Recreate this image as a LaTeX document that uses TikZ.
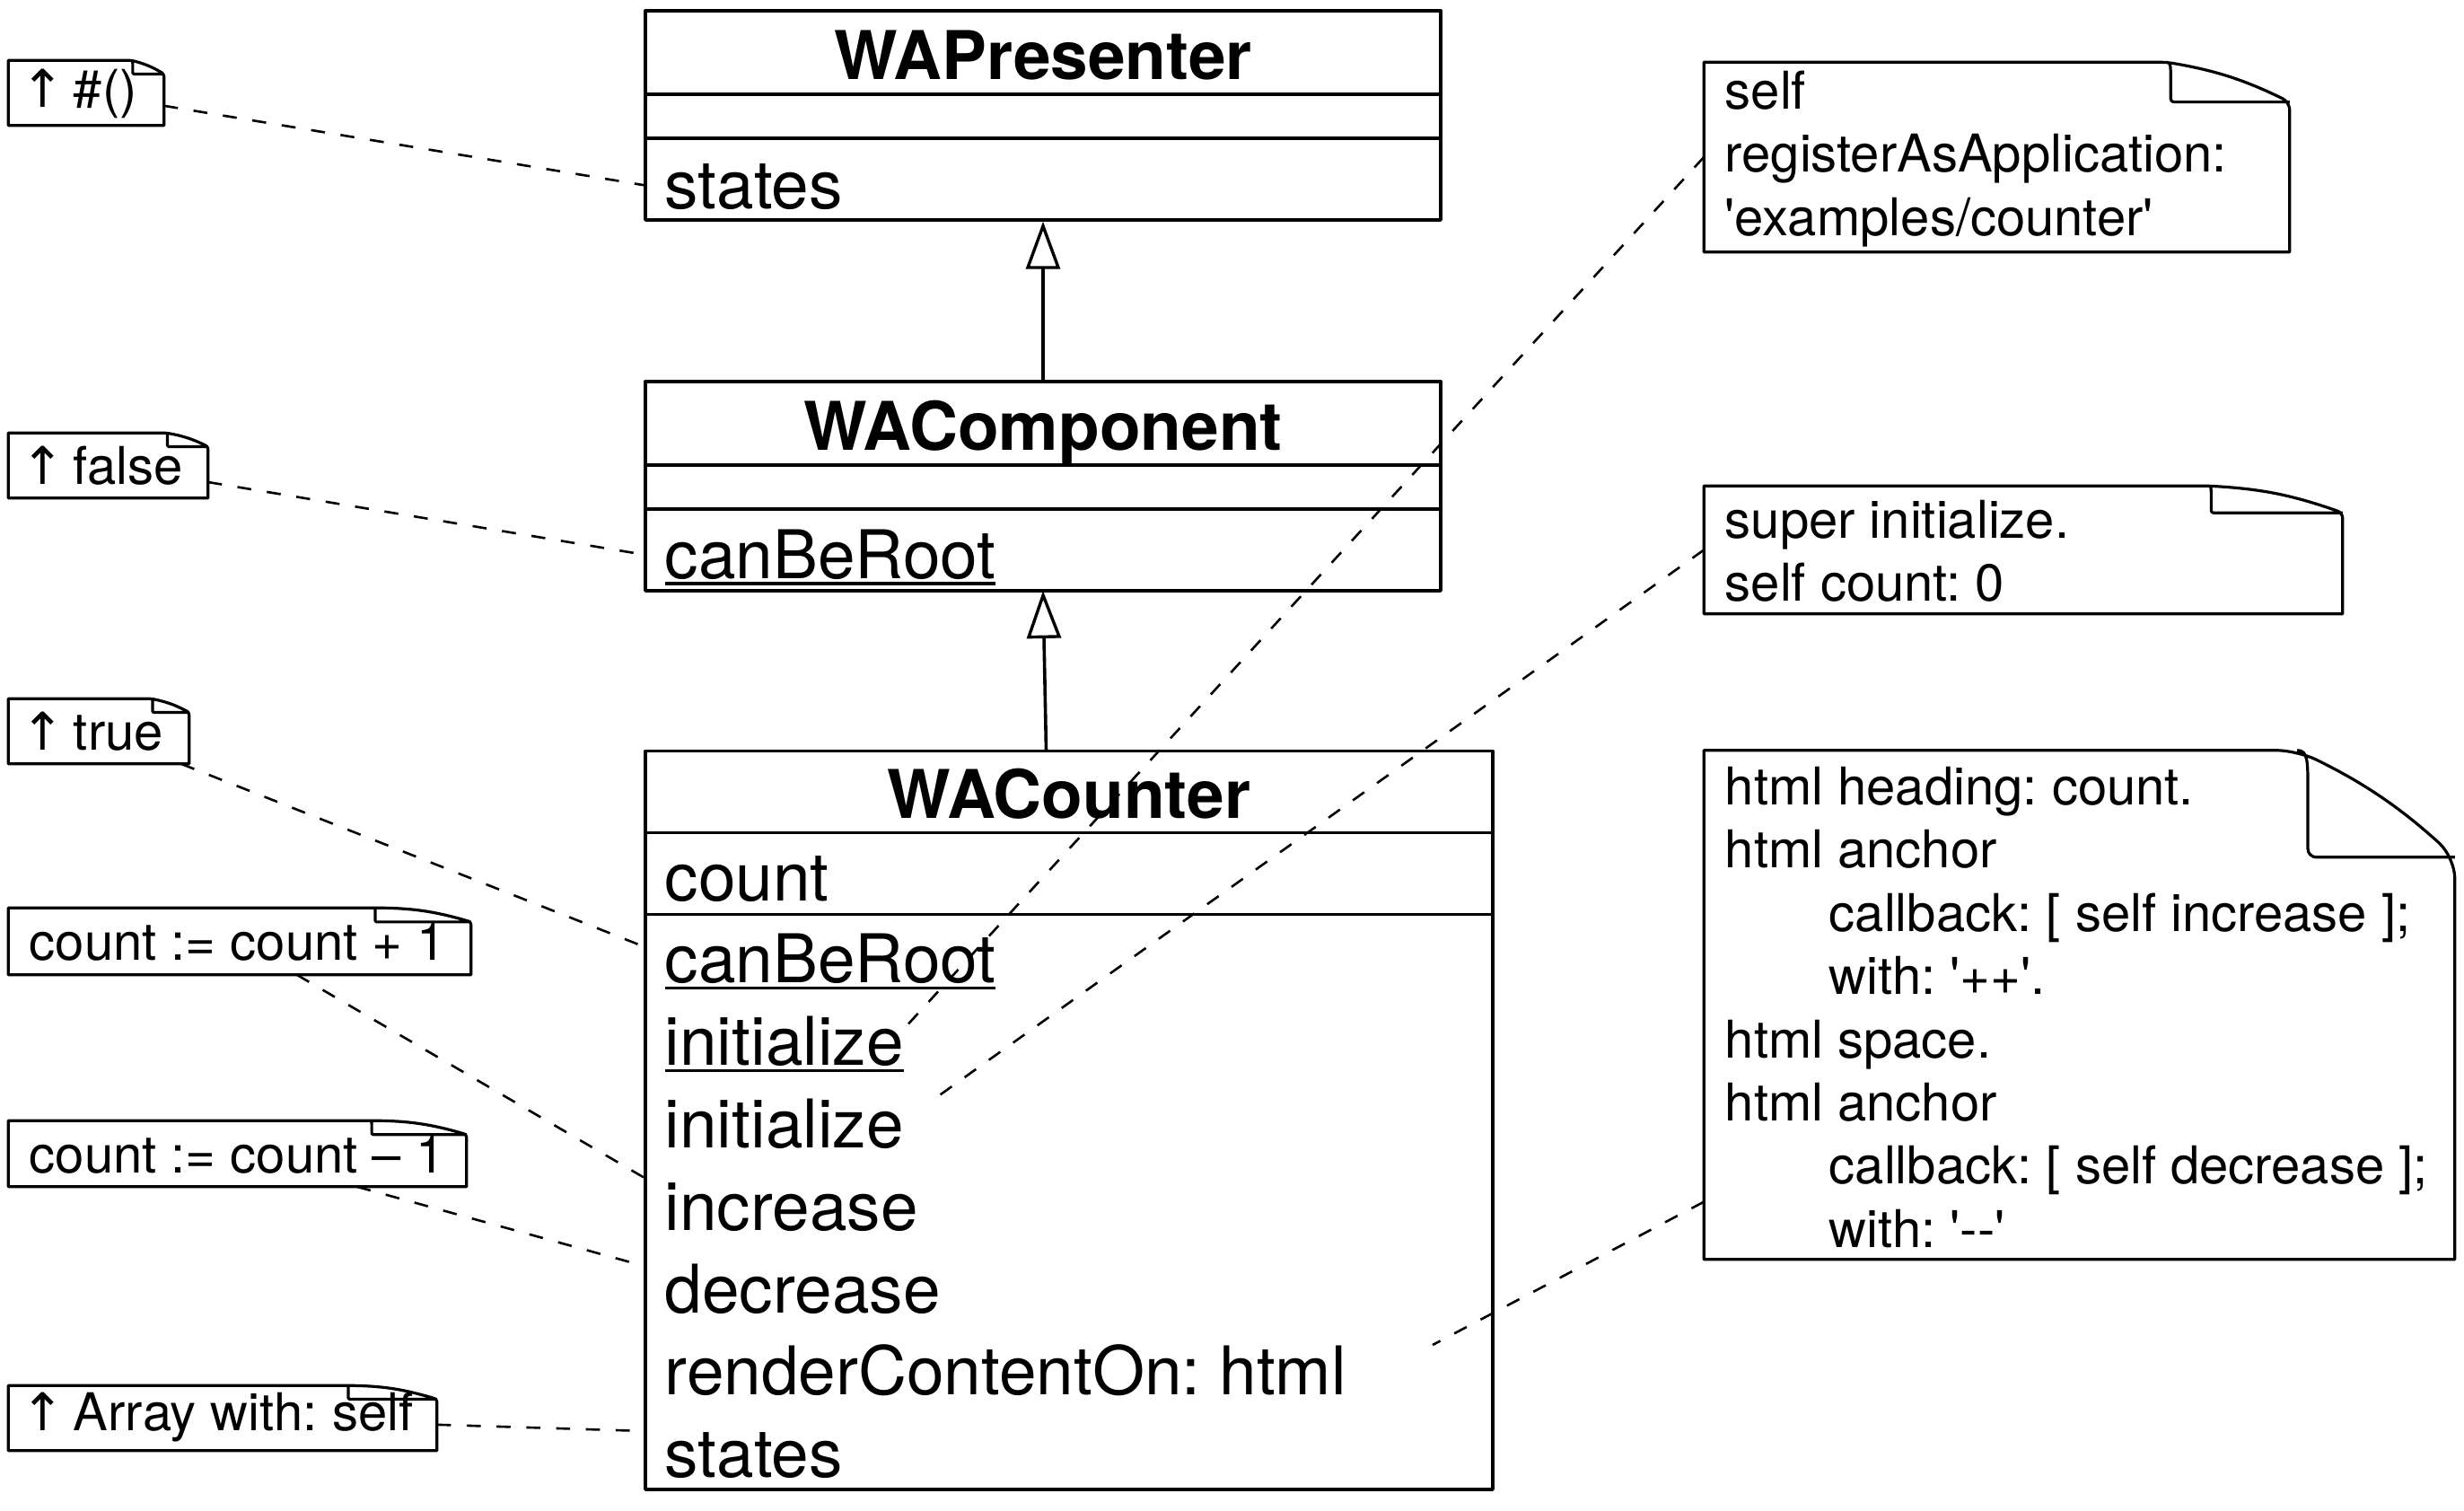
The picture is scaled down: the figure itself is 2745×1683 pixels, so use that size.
\documentclass[tikz,border=0pt]{standalone}
\usepackage{fontspec}
\setmainfont{TeX Gyre Heros}[Ligatures=TeXOff]
\newfontfamily\arrowfont{DejaVu Sans}
\usetikzlibrary{arrows.meta,calc,fit}

\newcommand\myul[1]{\leavevmode\setbox0\hbox{#1}\rlap{\rule[-1.9pt]{\wd0}{0.85pt}}\box0}
\newcommand\upar{{\arrowfont ↑}\hspace{2.4pt}}
\newcommand\drawnote[1]{%
  \draw[noteline] let \p1=(#1.north west), \p2=(#1.south east),
      \n1={0.21*(\x2-\x1)}, \n2={0.21*(\y1-\y2)} in
      (\x1,\y1) [rounded corners={0.2*\n2}] -- (\x2-\n1,\y1) to[bend left=8] (\x2,\y1-\n2)
      [sharp corners] -- (\x2,\y2) -- (\x1,\y2) -- cycle
      (\x2-\n1,\y1) .. controls (\x2-\n1+0.1*\n2,\y1) and (\x2-\n1+0.1*\n2,\y1-0.1*\n2) .. (\x2-\n1+0.1*\n2,\y1-0.35*\n2)
      [rounded corners={0.08*\n2}] -- (\x2-\n1+0.1*\n2,\y1-\n2) [sharp corners] -- (\x2,\y1-\n2);}

\begin{document}
\frenchspacing
\begin{tikzpicture}[x=0.25pt,y=-0.25pt,
  box/.style={draw, line width=0.85pt, inner sep=0pt, line join=round},
  sep/.style={line width=0.85pt},
  ctitle/.style={font=\fontsize{18.7}{22}\selectfont\bfseries, anchor=base, inner sep=0pt},
  crow/.style={font=\fontsize{18.7}{22}\selectfont, anchor=base west, inner sep=0pt},
  notebox/.style={inner sep=0pt},
  notetext/.style={anchor=west, inner sep=0pt, align=left, font=\fontsize{14.5}{17.6}\selectfont},
  noteline/.style={line width=0.8pt, line join=round},
  conn/.style={line width=0.65pt, dash pattern=on 3.9pt off 4.4pt},
  inherit/.style={line width=0.9pt, -{Triangle[open, length=13.25pt, width=9.5pt, line width=0.85pt]}}
]
\useasboundingbox (0,0) rectangle (2745,1683);

% ---- WAPresenter
\node[box, fit={(719,12) (1605,245)}] (pres) {};
\draw[sep] (719,105) -- (1605,105);
\draw[sep] (719,154) -- (1605,154);
\node[ctitle] (presT) at (1162,88) {WAPresenter};
\node[crow] (presS) at (740,232) {states};

% ---- WAComponent
\node[box, fit={(719,425) (1605,658)}] (comp) {};
\draw[sep] (719,518) -- (1605,518);
\draw[sep] (719,567) -- (1605,567);
\node[ctitle] (compT) at (1162,501) {WAComponent};
\node[crow] (compR) at (740,644) {\myul{canBeRoot}};

% ---- WACounter
\node[box, fit={(719,836.5) (1663,1659)}] (cnt) {};
\draw[sep] (719,927.5) -- (1663,927.5);
\draw[sep] (719,1018.5) -- (1663,1018.5);
\node[ctitle] (cntT) at (1191,911) {WACounter};
\node[crow] (cCount) at (740,1003) {count};
\node[crow] (cRoot)  at (740,1094.8) {\myul{canBeRoot}};
\node[crow] (cInitC) at (740,1186.6) {\myul{initialize}};
\node[crow] (cInit)  at (740,1278.4) {initialize};
\node[crow] (cInc)   at (740,1370.2) {increase};
\node[crow] (cDec)   at (740,1462) {decrease};
\node[crow] (cRend)  at (740,1553.8) {renderContentOn: html};
\node[crow] (cStat)  at (740,1645.6) {states};

% ---- inheritance
\coordinate (cntTop) at (1165.5,836.5);
\coordinate (compBot) at (1162,658);
\draw[inherit] (comp.north) -- (pres.south);
\draw[inherit] (cntTop) -- (compBot);

% ---- left notes
\node[notebox, fit={(10,68) (182,139)}] (l1) {};
\node[notetext] (l1t) at (23,104) {\upar\#()};
\node[notebox, fit={(10,483) (231,554)}] (l2) {};
\node[notetext] (l2t) at (23,519) {\upar false};
\node[notebox, fit={(10,779) (210,850)}] (l3) {};
\node[notetext] (l3t) at (23,815) {\upar true};
\node[notebox, fit={(10,1012) (524,1085)}] (l4) {};
\node[notetext] (l4t) at (32,1049) {count := count + 1};
\node[notebox, fit={(10,1249) (519,1321)}] (l5) {};
\node[notetext] (l5t) at (32,1286) {count := count – 1};
\node[notebox, fit={(10,1544) (486,1615)}] (l6) {};
\node[notetext] (l6t) at (23,1579) {\upar Array with: self};

% ---- right notes
\node[notebox, fit={(1899,70) (2550,280)}] (r1) {};
\node[notetext] (r1t) at (1921,177) {self\\registerAsApplication:\\'examples/counter'};
\node[notebox, fit={(1899,542) (2609,683)}] (r2) {};
\node[notetext] (r2t) at (1921,614) {super initialize.\\self count: 0};
\node[notebox, fit={(1899,836.5) (2734,1402)}] (r3) {};
\node[notetext] (r3t) at (1921,1122) {html heading: count.\\html anchor\\
  \hspace*{29pt}callback: [ self increase ];\\\hspace*{29pt}with: '++'.\\html space.\\html anchor\\
  \hspace*{29pt}callback: [ self decrease ];\\\hspace*{29pt}with: '--'};

\foreach \nm in {l1,l2,l3,l4,l5,l6,r1,r2,r3} {\drawnote{\nm}}

% ---- connector end points
\coordinate (aPres) at (719,206.5);
\coordinate (aComp) at (719,618);
\coordinate (aRoot) at (719,1055);
\coordinate (aInc)  at (719,1312.5);
\coordinate (aDec)  at (719,1410.5);
\coordinate (aStat) at (719,1594);
\coordinate (e1) at (1011.5,1141);
\coordinate (e2) at (1046.5,1220);
\coordinate (e3) at (1596,1498);

\draw[conn] (l1) -- (aPres);
\draw[conn] (l2) -- (aComp);
\draw[conn] (l3) -- (aRoot);
\draw[conn] (l4) -- (aInc);
\draw[conn] (l5) -- (aDec);
\draw[conn] (l6) -- (aStat);
\draw[conn] (r1.west) -- (e1);
\draw[conn] (r2.west) -- (e2);
\draw[conn] (r3) -- (e3);
\end{tikzpicture}
\end{document}
